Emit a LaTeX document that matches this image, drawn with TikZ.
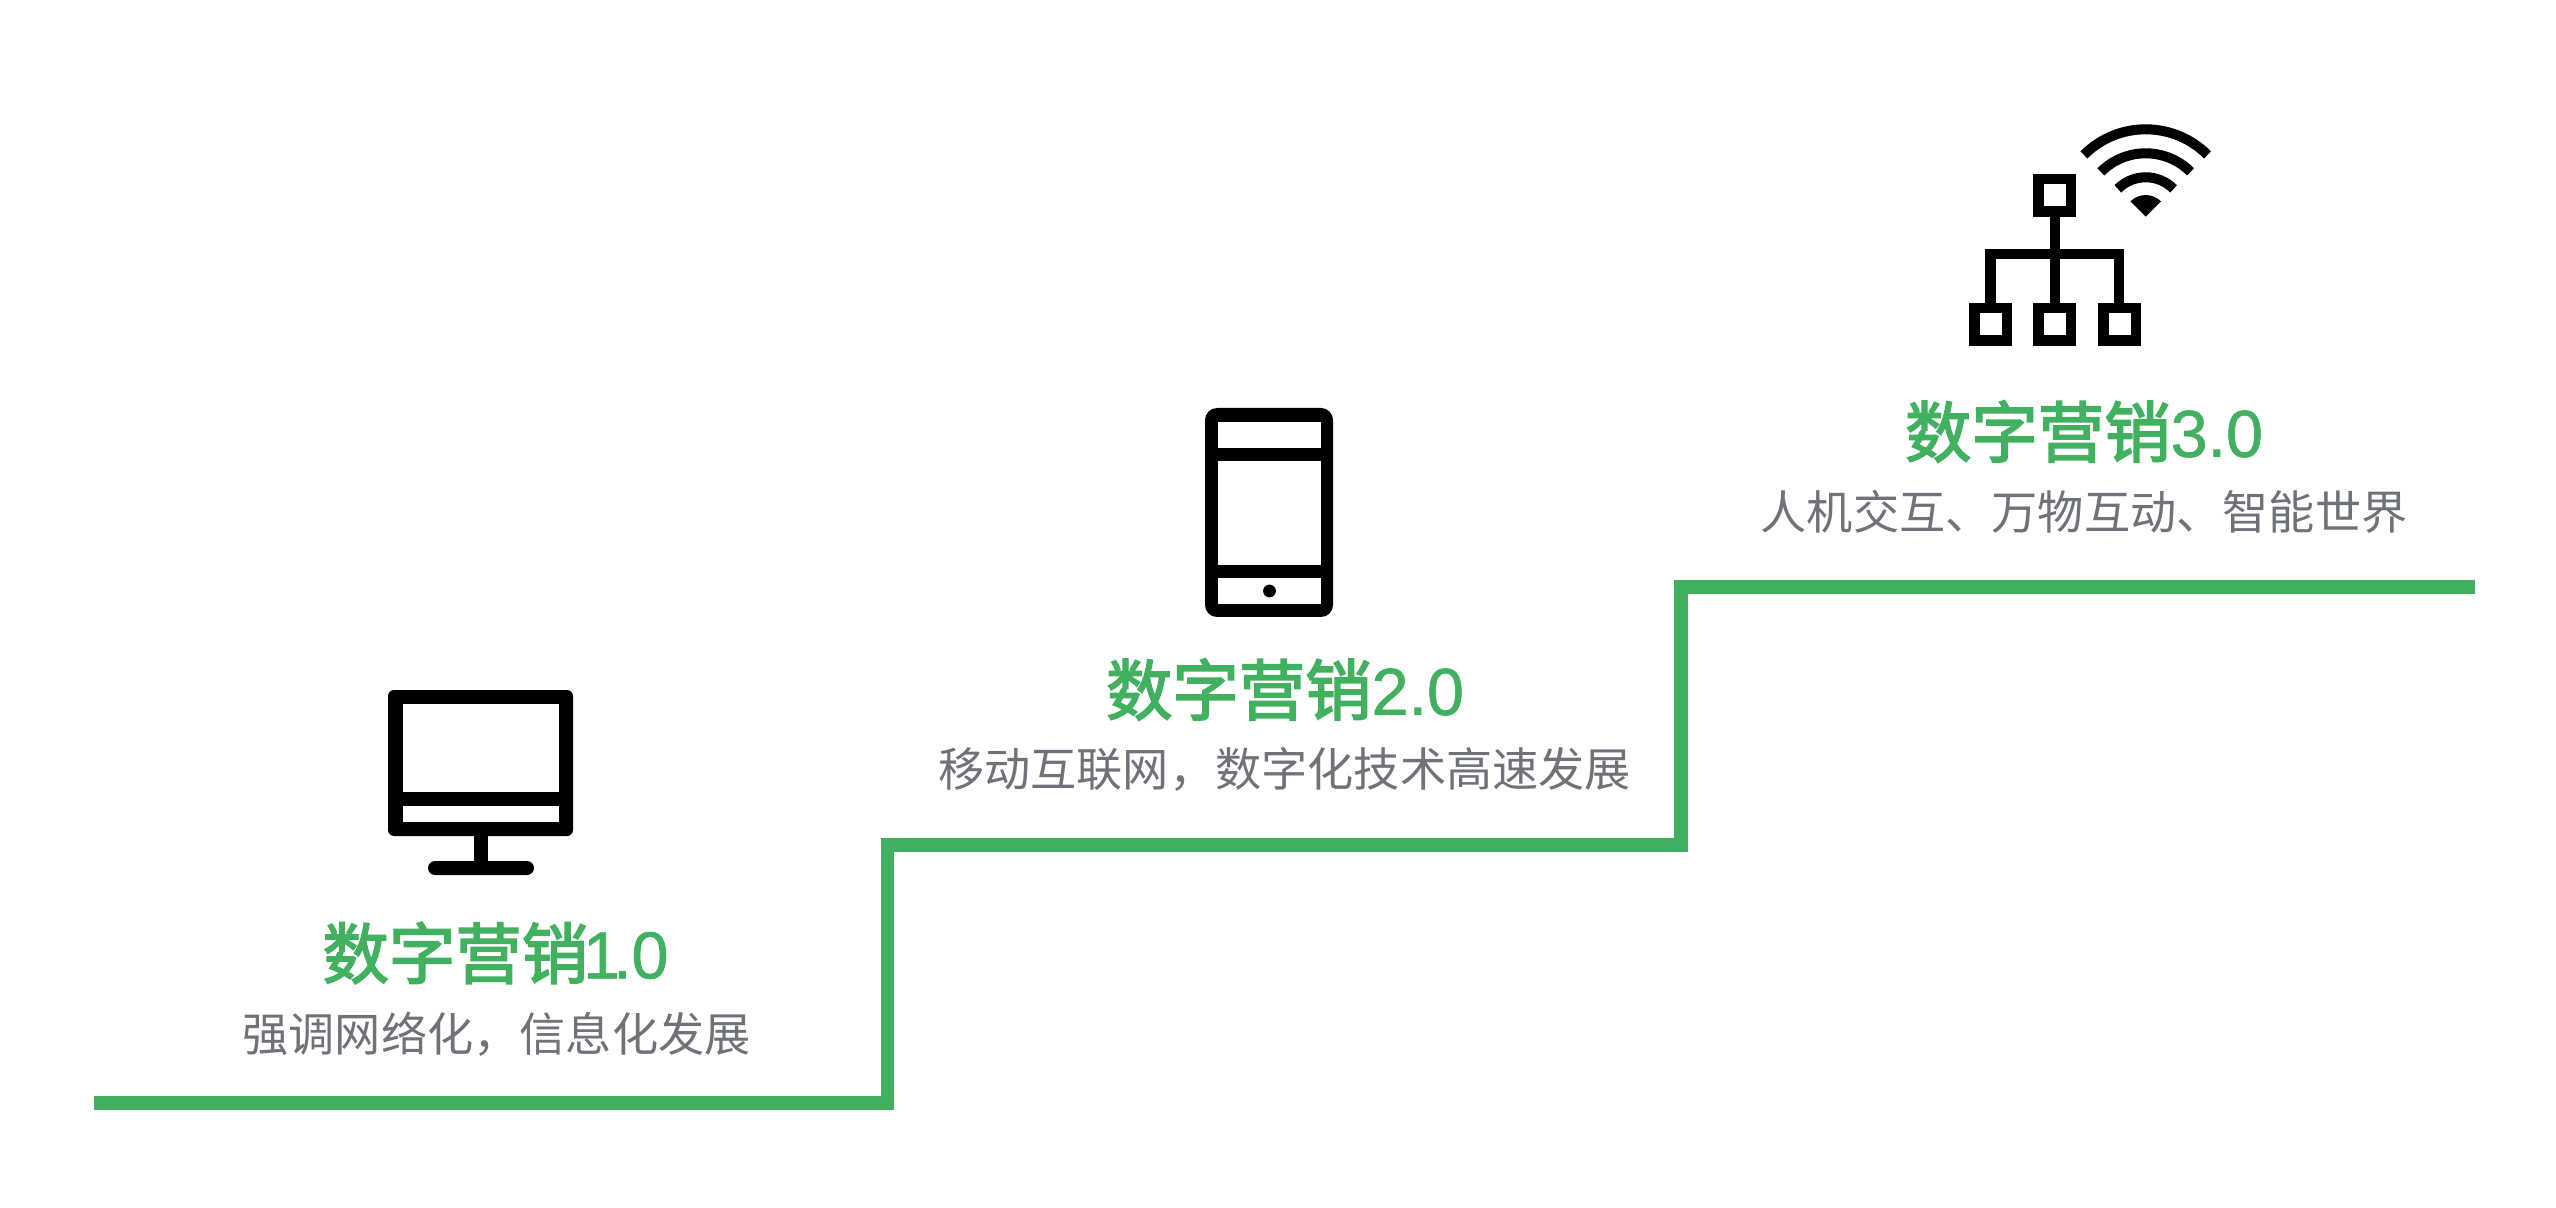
\documentclass[tikz,border=0pt]{standalone}
\usepackage{fontspec}
\usetikzlibrary{calc}
\setmainfont{Noto Sans CJK SC}
\newfontfamily\titlecjk{Noto Sans CJK SC}[FakeBold=2.5]
\newfontfamily\titlelatin{Liberation Sans}[FakeBold=1]
\definecolor{stepgreen}{HTML}{41B05F}
\definecolor{subgray}{HTML}{6F7278}
\newcommand{\titletext}[2]{{\titlecjk #1}{\titlelatin #2}}
\tikzset{
  x=0.5pt,y=-0.5pt,
  stair/.style={draw=stepgreen,line width=6.7pt,line join=miter},
  icon/.style={fill=black,draw=none},
  hole/.style={fill=white,draw=none},
  title/.style={text=stepgreen,font=\fontsize{33.2}{40}\selectfont,inner sep=0pt,anchor=center},
  subtitle/.style={text=subgray,font=\fontsize{23.1}{28}\selectfont,inner sep=0pt,anchor=center}
}
\begin{document}
\begin{tikzpicture}
\useasboundingbox (0,0) rectangle (2556,1208);
\fill[white] (0,0) rectangle (2556,1208);
\coordinate (s0) at (94,1103);
\coordinate (s1) at (887.5,1103);
\coordinate (s2) at (887.5,845);
\coordinate (s3) at (1681,845);
\coordinate (s4) at (1681,587);
\coordinate (s5) at (2475,587);
\draw[stair] (s0) -- (s1) -- (s2) -- (s3) -- (s4) -- (s5);
% monitor
\fill[icon,rounded corners=3pt] (388,690) rectangle (573,836);
\fill[hole] (403,704) rectangle (559,792);
\fill[hole] (403,806) rectangle (559,822);
\fill[icon] (474,835) rectangle (488,862);
\fill[icon,rounded corners=3.5pt] (428,861) rectangle (534,875);
% phone
\fill[icon,rounded corners=6pt] (1205,408) rectangle (1333,617);
\fill[hole] (1218,422) rectangle (1321,448);
\fill[hole] (1218,461) rectangle (1321,565);
\fill[hole] (1218,578) rectangle (1321,604);
\fill[icon] (1269.5,591) circle (3.2pt);
% network
\fill[icon] (2033,174) rectangle (2076,217);
\fill[hole] (2044,184.5) rectangle (2065.5,206.5);
\fill[icon] (1969,303) rectangle (2012,346);
\fill[hole] (1979.5,313.5) rectangle (2001.5,335.5);
\fill[icon] (2033,303) rectangle (2076,346);
\fill[hole] (2044,313.5) rectangle (2065.5,335.5);
\fill[icon] (2098,303) rectangle (2141,346);
\fill[hole] (2108.5,313.5) rectangle (2130.5,335.5);
\fill[icon] (2050,217) rectangle (2060,303);
\fill[icon] (1985,249) rectangle (2124,259.5);
\fill[icon] (1985,249) rectangle (1995.5,303);
\fill[icon] (2113.5,249) rectangle (2124,303);
% wifi
\coordinate (w) at (2145.7,216.7);
\fill[icon] (w) -- ++(-15.3,-15.3) arc[start angle=135,end angle=45,radius=10.8pt] -- cycle;
\foreach \r in {39.4,63.4,87.4}{
  \draw[black,line width=5pt] ($(w)+(-0.7071*\r,-0.7071*\r)$) arc[start angle=135,end angle=45,radius=0.5*\r pt];
}
% texts
\node[title] (t1) at (495.5,953) {\titletext{数字营销}{\kern-2.5pt 1\kern-3.5pt .0}};
\node[subtitle] (d1) at (496.5,1034.5) {强调网络化，信息化发展};
\node[title] (t2) at (1285,689.5) {\titletext{数字营销}{2.0}};
\node[subtitle] (d2) at (1284.5,769.5) {移动互联网，数字化技术高速发展};
\node[title] (t3) at (2084,431.5) {\titletext{数字营销}{3.0}};
\node[subtitle] (d3) at (2084,511.5) {人机交互、万物互动、智能世界};
\end{tikzpicture}
\end{document}
